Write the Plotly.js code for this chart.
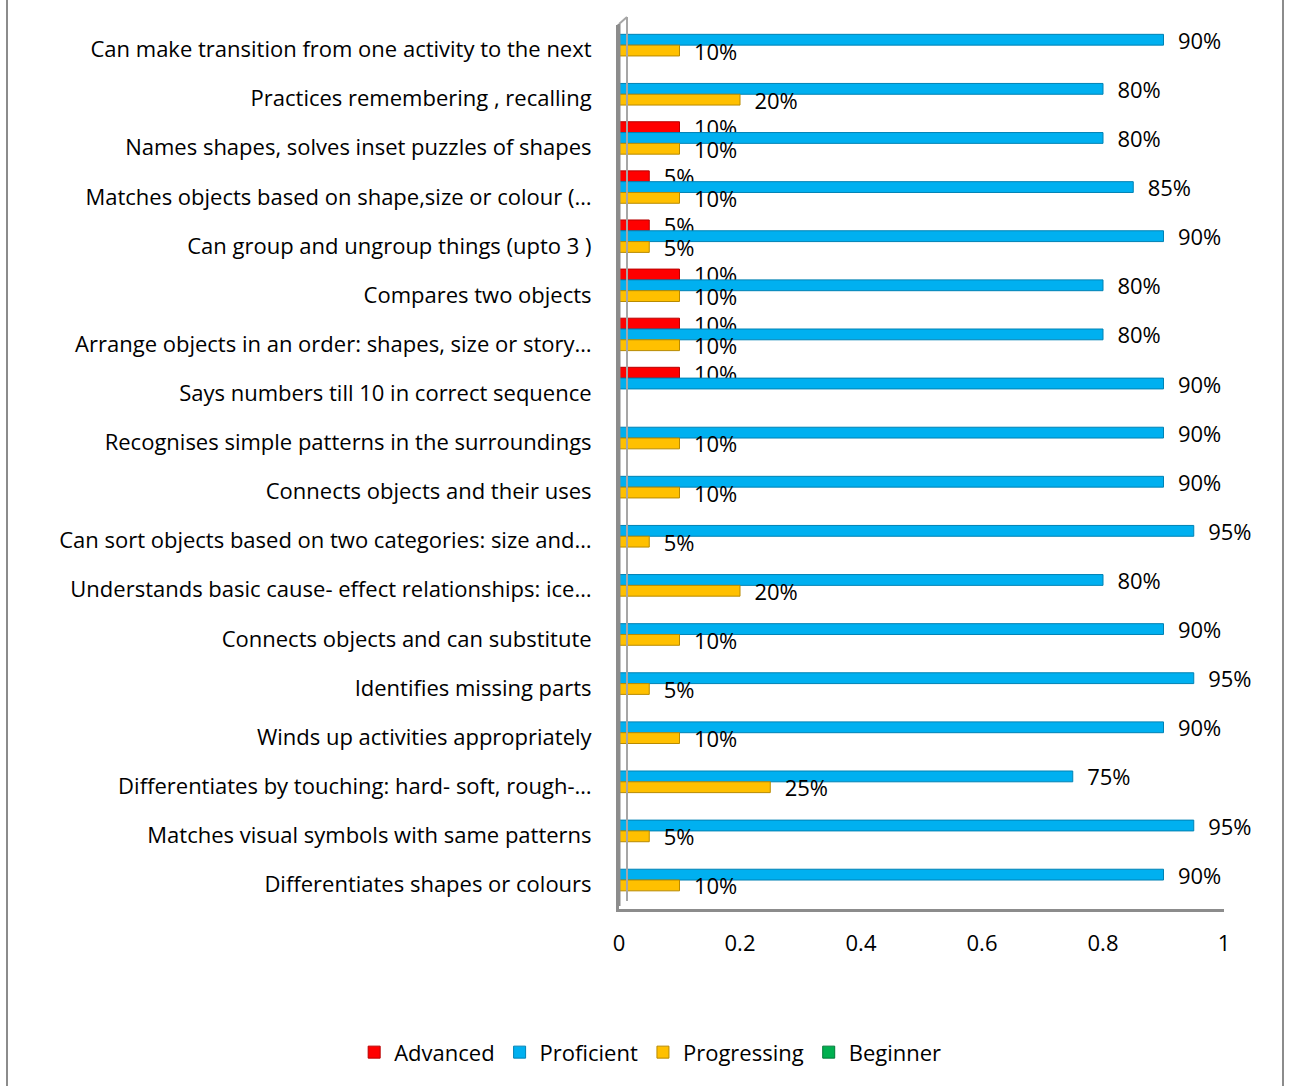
<!DOCTYPE html>
<html>
<head>
<meta charset="utf-8">
<script src="https://cdn.plot.ly/plotly-3.0.1.min.js"></script>
<style>
  html, body { margin: 0; padding: 0; background: #ffffff; }
  #chart { width: 1290px; height: 1086px; }
</style>
</head>
<body>
<div id="chart"></div>
<script>
const categories = [
  "Can make transition from one activity to the next",
  "Practices remembering , recalling",
  "Names shapes, solves inset puzzles of shapes",
  "Matches objects based on shape,size or colour (…",
  "Can group and ungroup things (upto 3 )",
  "Compares two objects",
  "Arrange objects in an order: shapes, size or story…",
  "Says numbers till 10 in correct sequence",
  "Recognises simple patterns in the surroundings",
  "Connects objects and their uses",
  "Can sort objects based on two categories: size and…",
  "Understands basic cause- effect relationships: ice…",
  "Connects objects and can substitute",
  "Identifies missing parts",
  "Winds up activities appropriately",
  "Differentiates by touching: hard- soft, rough-…",
  "Matches visual symbols with same patterns",
  "Differentiates shapes or colours"
];
const advanced    = [0, 0, 0.10, 0.05, 0.05, 0.10, 0.10, 0.10, 0, 0, 0, 0, 0, 0, 0, 0, 0, 0];
const proficient  = [0.90, 0.80, 0.80, 0.85, 0.90, 0.80, 0.80, 0.90, 0.90, 0.90, 0.95, 0.80, 0.90, 0.95, 0.90, 0.75, 0.95, 0.90];
const progressing = [0.10, 0.20, 0.10, 0.10, 0.05, 0.10, 0.10, 0, 0.10, 0.10, 0.05, 0.20, 0.10, 0.05, 0.10, 0.25, 0.05, 0.10];
const beginner    = [0, 0, 0, 0, 0, 0, 0, 0, 0, 0, 0, 0, 0, 0, 0, 0, 0, 0];
const seriesNames = ["Advanced", "Proficient", "Progressing", "Beginner"];
const xTickVals   = [0, 0.2, 0.4, 0.6, 0.8, 1];
const xTickText   = ["0", "0.2", "0.4", "0.6", "0.8", "1"];

const FONT = "Open Sans, Noto Sans, sans-serif";
const FS = 22;
const colors = ["#FF0000", "#00B0F0", "#FFC000", "#00B050"];
const edges  = ["#B80000", "#0082B4", "#B88A00", "#007A38"];
const offsets = [-0.53, -0.31, -0.09, 0.13];
const W = 1290, H = 1086;
const M = { l: 619, r: 66, t: 25, b: 177 };
const PW = W - M.l - M.r, PH = H - M.t - M.b;
const px = x => (x - M.l) / PW;
const py = y => (H - M.b - y) / PH;

function labels(vals) {
  return vals.map(v => v > 0 ? "\u00a0\u00a0" + Math.round(v * 100) + "%" : "");
}

const allSeries = [advanced, proficient, progressing, beginner];
const traces = allSeries.map((vals, i) => ({
  type: "bar",
  orientation: "h",
  name: seriesNames[i],
  y: categories,
  x: vals,
  width: 0.22,
  offset: offsets[i],
  marker: { color: colors[i], line: { color: edges[i], width: 1 } },
  text: labels(vals),
  textposition: "outside",
  constraintext: "none",
  cliponaxis: false,
  textfont: { family: FONT, size: FS, color: "#000000" },
  hoverinfo: "x+y+name"
}));

const grey = "#8C8C8C";
const layout = {
  width: W, height: H,
  margin: M,
  paper_bgcolor: "#ffffff",
  plot_bgcolor: "#ffffff",
  font: { family: FONT, size: FS, color: "#000000" },
  barmode: "group",
  showlegend: true,
  legend: {
    orientation: "h",
    xref: "container", x: 0.504, xanchor: "center",
    yref: "container", y: 0.031, yanchor: "middle",
    font: { family: FONT, size: FS, color: "#000000" },
    traceorder: "normal",
    itemwidth: 30
  },
  xaxis: {
    range: [0, 1],
    tickvals: xTickVals,
    ticktext: xTickText,
    showgrid: false,
    zeroline: false,
    showline: true,
    linecolor: grey,
    linewidth: 3,
    ticks: "",
    ticklabelstandoff: 13,
    tickfont: { family: FONT, size: FS, color: "#000000" }
  },
  yaxis: {
    type: "category",
    range: [categories.length - 0.5, -0.5],
    showgrid: false,
    zeroline: false,
    showline: true,
    linecolor: grey,
    linewidth: 3,
    ticks: "",
    ticklabelstandoff: 20,
    tickfont: { family: FONT, size: FS, color: "#000000" }
  },
  shapes: [
    { type: "line", xref: "paper", yref: "paper", x0: px(627), x1: px(627), y0: py(17), y1: py(901), line: { color: "#A6A6A6", width: 2 } },
    { type: "line", xref: "paper", yref: "paper", x0: px(619), x1: px(627), y0: py(24), y1: py(17), line: { color: "#A6A6A6", width: 2 } },
    { type: "line", xref: "paper", yref: "paper", x0: px(619), x1: px(619), y0: py(24), y1: py(906), line: { color: grey, width: 3 } },
    { type: "line", xref: "paper", yref: "paper", x0: px(7), x1: px(7), y0: py(0), y1: py(H), line: { color: "#8C8C8C", width: 2 } },
    { type: "line", xref: "paper", yref: "paper", x0: px(1283), x1: px(1283), y0: py(0), y1: py(H), line: { color: "#8C8C8C", width: 2 } }
  ]
};

Plotly.newPlot("chart", traces, layout, { displayModeBar: false, responsive: false });
</script>
</body>
</html>
